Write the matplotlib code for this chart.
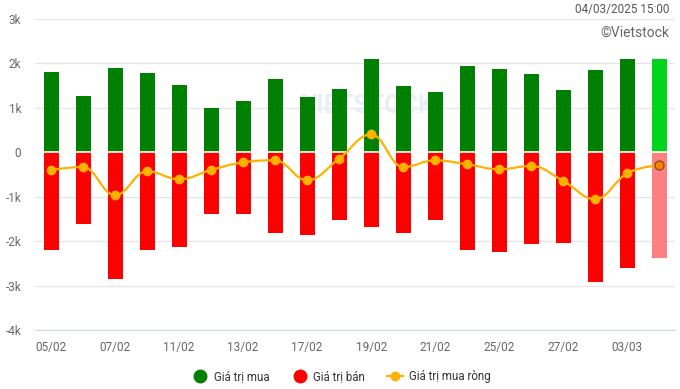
import numpy as np
import matplotlib
matplotlib.use("Agg")
import matplotlib.pyplot as plt
from matplotlib.path import Path
from matplotlib.patches import PathPatch
from matplotlib.lines import Line2D

plt.rcParams['font.family'] = ['Roboto', 'DejaVu Sans']

dates = ['05/02', '06/02', '07/02', '10/02', '11/02', '12/02', '13/02', '14/02', '17/02', '18/02',
         '19/02', '20/02', '21/02', '24/02', '25/02', '26/02', '27/02', '28/02', '03/03', '04/03']
mua = [1805, 1265, 1888, 1782, 1506, 996, 1153, 1640, 1243, 1416,
       2090, 1483, 1348, 1933, 1865, 1753, 1393, 1843, 2112, 2090]
ban = [-2202, -1611, -2847, -2202, -2127, -1386, -1386, -1813, -1858, -1521,
       -1678, -1813, -1521, -2195, -2240, -2060, -2037, -2914, -2607, -2375]
rong = [-397, -330, -966, -427, -607, -397, -225, -180, -629, -142,
        404, -330, -180, -270, -382, -307, -644, -1056, -472, -285]
yticks = [-4000, -3000, -2000, -1000, 0, 1000, 2000, 3000]
ylabels = ['-4k', '-3k', '-2k', '-1k', '0', '1k', '2k', '3k']


def spline_path(xs, ys, smoothing=1.5):
    # Highcharts-style spline: cubic bezier with control points per point
    n = len(xs)
    lc = [(xs[i], ys[i]) for i in range(n)]
    rc = [(xs[i], ys[i]) for i in range(n)]
    d = smoothing + 1
    for i in range(1, n - 1):
        x, y = xs[i], ys[i]
        lx, ly = xs[i - 1], ys[i - 1]
        nx, ny = xs[i + 1], ys[i + 1]
        lcx = (smoothing * x + lx) / d
        lcy = (smoothing * y + ly) / d
        rcx = (smoothing * x + nx) / d
        rcy = (smoothing * y + ny) / d
        if rcx != lcx:
            corr = (rcy - lcy) * (rcx - x) / (rcx - lcx) + y - rcy
            lcy += corr
            rcy += corr
        if lcy > ly and lcy > y:
            lcy = max(ly, y)
            rcy = 2 * y - lcy
        elif lcy < ly and lcy < y:
            lcy = min(ly, y)
            rcy = 2 * y - lcy
        if rcy > ny and rcy > y:
            rcy = max(ny, y)
            lcy = 2 * y - rcy
        elif rcy < ny and rcy < y:
            rcy = min(ny, y)
            lcy = 2 * y - rcy
        lc[i] = (lcx, lcy)
        rc[i] = (rcx, rcy)
    verts = [(xs[0], ys[0])]
    codes = [Path.MOVETO]
    for i in range(1, n):
        verts += [rc[i - 1], lc[i], (xs[i], ys[i])]
        codes += [Path.CURVE4] * 3
    return Path(verts, codes)


x = np.arange(len(dates))
fig = plt.figure(figsize=(6.8, 3.89), dpi=100)
ax = fig.add_axes([0.0515, 0.1517, 0.9415, 0.7993])

green = ['#008000'] * (len(x) - 1) + ['#00d41c']
red = ['#ff0000'] * (len(x) - 1) + ['#ff8080']
ax.bar(x, mua, width=0.47, color=green, zorder=2)
ax.bar(x, ban, width=0.47, color=red, zorder=2)
ax.axhline(0, color='white', lw=1.2, zorder=3)

ax.add_patch(PathPatch(spline_path(x.astype(float), rong), fill=False,
                       edgecolor='#ffb100', lw=1.6, zorder=4))
ax.plot(x[:-1], rong[:-1], 'o', color='#ffb100', ms=6, zorder=5)
ax.plot(x[-1:], rong[-1:], 'o', color='#ff7f00', mec='#8a5020', mew=1, ms=6.5, zorder=5)

# faint watermark
ax.text(0.52, 0.72, 'VIETSTOCK', transform=ax.transAxes, fontsize=18,
        color='#e9eef5', ha='center', va='center', fontweight='bold', zorder=1)

ax.set_xlim(-0.5, 19.5)
ax.set_ylim(-4000, 3000)
ax.set_yticks(yticks)
ax.set_yticklabels(ylabels)
ax.set_xticks(x[::2])
ax.set_xticklabels(dates[::2])
ax.grid(axis='y', color='#e6e6e6', lw=1, zorder=0)
ax.set_axisbelow(True)
for s in ['top', 'right', 'left']:
    ax.spines[s].set_visible(False)
ax.spines['bottom'].set_color('#ccd6eb')
ax.tick_params(axis='y', length=0, labelsize=8.5, labelcolor='#666666', pad=10)
ax.tick_params(axis='x', length=0, labelsize=8.5, labelcolor='#666666', pad=8)

fig.text(0.985, 0.975, '04/03/2025 15:00', ha='right', va='center', fontsize=8.5, color='#555555')
fig.text(0.985, 0.915, '©Vietstock', ha='right', va='center', fontsize=10, color='#666666')

handles = [
    Line2D([], [], marker='o', ls='none', color='#008000', ms=9),
    Line2D([], [], marker='o', ls='none', color='#ff0000', ms=9),
    Line2D([], [], marker='o', ls='-', color='#ffb100', ms=6, lw=1.6),
]
fig.legend(handles, ['Giá trị mua', 'Giá trị bán', 'Giá trị mua ròng'],
           loc='center', bbox_to_anchor=(0.502, 0.033), ncol=3, frameon=False,
           fontsize=8.3, labelcolor='#333333', handlelength=1.4, columnspacing=1.9,
           handletextpad=0.5)

fig.savefig('out.png', dpi=100)
